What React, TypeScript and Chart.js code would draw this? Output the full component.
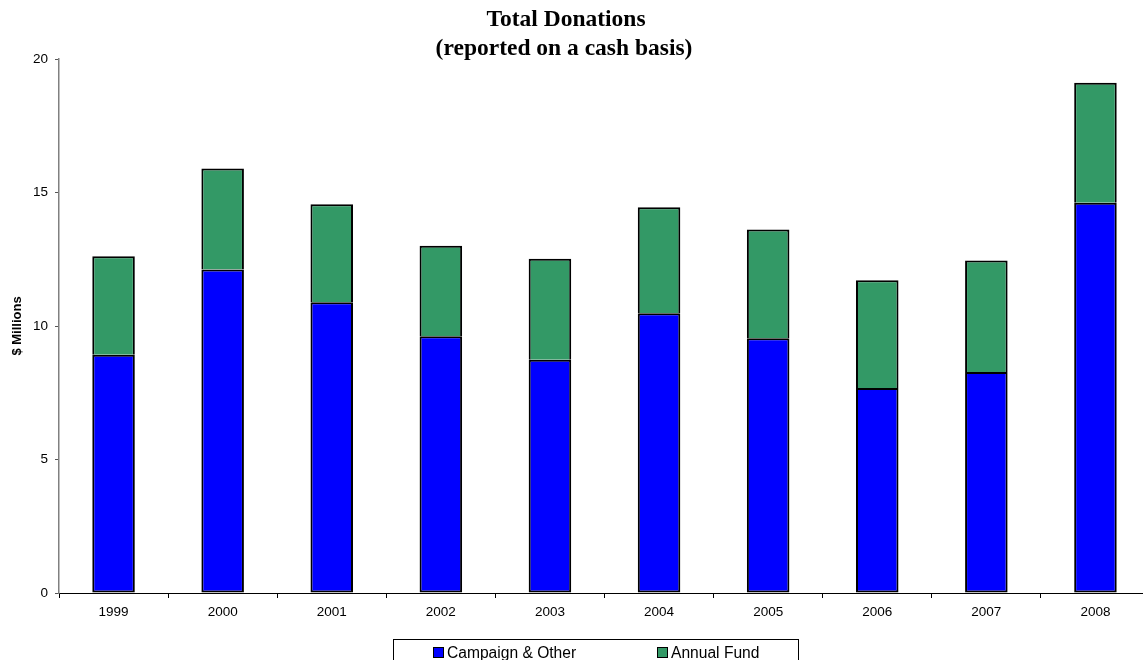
import React, { useEffect, useRef } from "react";
import { Chart, registerables } from "chart.js";

Chart.register(...registerables);

const years = ["1999", "2000", "2001", "2002", "2003", "2004", "2005", "2006", "2007", "2008"];
const campaignOther = [8.92, 12.12, 10.89, 9.62, 8.74, 10.48, 9.54, 7.68, 8.28, 14.62];
const annualFund = [3.69, 3.78, 3.67, 3.39, 3.78, 3.97, 4.07, 4.03, 4.17, 4.49];
const yMin = 0;
const yMax = 20;
const yStep = 5;
const titleLines = ["Total Donations", "(reported on a cash basis)"];
const yAxisTitle = "$ Millions";
const seriesNames = ["Campaign & Other", "Annual Fund"];
const seriesColors = ["#0000FF", "#339966"];

const SANS = "'Liberation Sans', Arial, sans-serif";
const SERIF = "'Liberation Serif', 'Times New Roman', serif";

const decorPlugin = {
  id: "decor",
  afterDraw(chart: any) {
    const ctx = chart.ctx;
    const area = chart.chartArea;
    ctx.save();
    // Title
    ctx.fillStyle = "#000";
    ctx.font = `bold 23.5px ${SERIF}`;
    ctx.textAlign = "center";
    ctx.textBaseline = "alphabetic";
    ctx.fillText(titleLines[0], 566, 26);
    ctx.fillText(titleLines[1], 564, 55);

    // Y axis title
    ctx.save();
    ctx.translate(17, (area.top + area.bottom) / 2);
    ctx.rotate(-Math.PI / 2);
    ctx.font = `bold 13px ${SANS}`;
    ctx.textAlign = "center";
    ctx.textBaseline = "middle";
    ctx.fillText(yAxisTitle, 0, 0);
    ctx.restore();

    // Legend box
    ctx.strokeStyle = "#000";
    ctx.lineWidth = 1;
    ctx.fillStyle = "#fff";
    ctx.fillRect(393.5, 639.5, 405, 40);
    ctx.strokeRect(393.5, 639.5, 405, 40);
    const xs = [433, 657];
    ctx.font = `15.6px ${SANS}`;
    ctx.textAlign = "left";
    ctx.textBaseline = "alphabetic";
    chart.data.datasets.forEach((ds: any, i: number) => {
      ctx.fillStyle = ds.backgroundColor;
      ctx.fillRect(xs[i] + 0.5, 647.5, 10, 10);
      ctx.strokeStyle = "#000";
      ctx.strokeRect(xs[i] + 0.5, 647.5, 10, 10);
      ctx.fillStyle = "#000";
      ctx.fillText(ds.label, xs[i] + 14, 658);
    });
    ctx.restore();
  },
};

export default function App() {
  const ref = useRef<HTMLCanvasElement | null>(null);

  useEffect(() => {
    if (!ref.current) return;
    const barStyle = {
      borderColor: "#000",
      borderWidth: 2,
      barPercentage: 0.39,
      categoryPercentage: 1,
    };
    const chart = new Chart(ref.current, {
      type: "bar",
      data: {
        labels: years,
        datasets: [
          {
            label: seriesNames[0],
            data: campaignOther,
            backgroundColor: seriesColors[0],
            borderSkipped: false,
            ...barStyle,
          },
          {
            label: seriesNames[1],
            data: annualFund,
            backgroundColor: seriesColors[1],
            borderSkipped: "start",
            ...barStyle,
          },
        ],
      },
      options: {
        animation: false,
        responsive: true,
        maintainAspectRatio: false,
        layout: { padding: { top: 59, left: 0, right: 2, bottom: 0 } },
        plugins: {
          legend: { display: false },
          title: { display: false },
          tooltip: { enabled: false },
        },
        scales: {
          x: {
            stacked: true,
            afterFit: (s: any) => {
              s.height = 67;
            },
            grid: {
              display: true,
              drawOnChartArea: false,
              drawTicks: true,
              tickLength: 5,
              color: "#000",
              offset: true,
            },
            border: { display: true, color: "#000", width: 1 },
            ticks: {
              color: "#000",
              font: { family: SANS, size: 13.5 },
              padding: 6,
              maxRotation: 0,
              autoSkip: false,
            },
          },
          y: {
            stacked: true,
            min: yMin,
            max: yMax,
            afterFit: (s: any) => {
              s.width = 59;
            },
            grid: {
              display: true,
              drawOnChartArea: false,
              drawTicks: true,
              tickLength: 4,
              color: "#555",
            },
            border: { display: true, color: "#808080", width: 1.5 },
            ticks: {
              stepSize: yStep,
              color: "#000",
              font: { family: SANS, size: 13.5 },
              padding: 7,
            },
          },
        },
      },
      plugins: [decorPlugin],
    });
    return () => chart.destroy();
  }, []);

  return (
    <div
      style={{
        position: "fixed",
        left: 0,
        top: 0,
        width: 1143,
        height: 660,
        overflow: "hidden",
        background: "#fff",
      }}
    >
      <div style={{ position: "relative", width: 1152, height: 660 }}>
        <canvas ref={ref} />
      </div>
    </div>
  );
}
